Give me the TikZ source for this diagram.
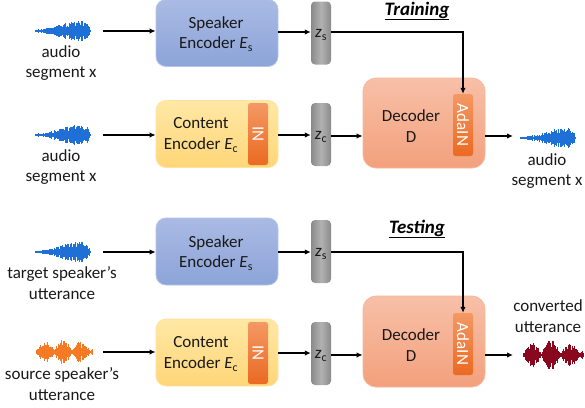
\documentclass[tikz,border=0pt]{standalone}
\usepackage{fontspec}
\setmainfont{Carlito}
\usetikzlibrary{arrows.meta}
\definecolor{spkA}{RGB}{170,186,228}
\definecolor{spkB}{RGB}{140,164,216}
\definecolor{spkE}{RGB}{180,196,234}
\definecolor{cntA}{RGB}{255,232,165}
\definecolor{cntB}{RGB}{255,214,120}
\definecolor{cntE}{RGB}{255,226,160}
\definecolor{decA}{RGB}{247,192,168}
\definecolor{decB}{RGB}{243,160,124}
\definecolor{decE}{RGB}{246,184,156}
\definecolor{inA}{RGB}{234,106,34}
\definecolor{inB}{RGB}{244,152,100}
\definecolor{zA}{RGB}{178,178,178}
\definecolor{zB}{RGB}{138,138,138}
\definecolor{waveblue}{RGB}{30,112,214}
\definecolor{waveorange}{RGB}{246,122,36}
\definecolor{wavered}{RGB}{138,8,30}
\newcommand\drawwave[6]{%
  \pgfmathsetseed{#5}%
  \fill[#4] (#1,#2-0.9) rectangle (#1+#3,#2+0.9);
  \foreach \i in {0,...,120}{%
    \pgfmathsetmacro\wt{\i/120}%
    \pgfmathsetmacro\xx{#1+\wt*#3}%
    \pgfmathsetmacro\hh{(#6)*(0.35+0.65*rnd)}%
    \draw[#4,line width=0.45pt] (\xx,#2-\hh) -- (\xx,#2+\hh);
  }%
}
\tikzset{
  arr/.style={draw=black,line width=1.4pt,-{Latex[length=6pt,width=5.5pt]}},
  spkbox/.style={rounded corners=10pt,minimum width=122pt,minimum height=67pt,inner sep=0pt,
    top color=spkA,bottom color=spkB,draw=spkE,line width=0.8pt},
  cntbox/.style={rounded corners=10pt,minimum width=122pt,minimum height=67pt,inner sep=0pt,
    top color=cntA,bottom color=cntB,draw=cntE,line width=0.8pt},
  decbox/.style={rounded corners=13pt,minimum width=122pt,minimum height=90pt,inner sep=0pt,
    top color=decA,bottom color=decB,draw=decE,line width=0.8pt},
  barbox/.style={rotate=-90,rounded corners=2.5pt,minimum width=62pt,minimum height=20pt,inner sep=0pt,
    top color=inB,bottom color=inA,text=white,
    font=\fontsize{17}{20}\selectfont},
  zbox/.style={rounded corners=4pt,minimum width=20pt,minimum height=63pt,inner sep=0pt,
    left color=zB,right color=zB,middle color=zA},
  txt/.style={align=center,inner sep=0pt,text=black!90},
  ttl/.style={inner sep=0pt,font=\fontsize{19}{22}\selectfont\bfseries\itshape},
}
\begin{document}
\begin{tikzpicture}[x=1pt,y=-1pt,font=\fontsize{17}{20.5}\selectfont]
\useasboundingbox (0,0) rectangle (585,407);

% ---------------- Training ----------------
\node[ttl] (ttrain) at (417,11) {\underline{Training}};

\drawwave{35}{31}{55}{waveblue}{3}{1.5+9*(\wt*\wt*sqrt(1-\wt))/0.286}
\coordinate (w1e) at (103,31);
\node[txt] (w1l) at (61,63) {audio\\segment x};

\node[spkbox] (spk1) at (217,33) {};
\node[txt] (spk1t) at (216,34) {Speaker\\Encoder {\itshape E}\textsubscript{s}};
\node[zbox] (zs1) at (321,33) {};
\node[txt] (zs1t) at (321,35) {{\itshape z}\textsubscript{s}};

\drawwave{35}{135}{55}{waveblue}{7}{1.5+9*(\wt*\wt*sqrt(1-\wt))/0.286}
\coordinate (w2e) at (103,135);
\node[txt] (w2l) at (61,167) {audio\\segment x};

\node[cntbox] (cnt1) at (217,134) {};
\node[txt] (cnt1t) at (201,135) {Content\\Encoder {\itshape E}\textsubscript{c}};
\node[barbox] (in1) at (258,134) {IN};
\node[zbox] (zc1) at (321,134.5) {};
\node[txt] (zc1t) at (321,137) {{\itshape z}\textsubscript{c}};

\node[decbox] (dec1) at (424,123) {};
\node[txt] (dec1t) at (411,126) {Decoder\\D};
\node[barbox] (ada1) at (463,125) {AdaIN};

\drawwave{520}{138}{55}{waveblue}{11}{1.5+9*(\wt*\wt*sqrt(1-\wt))/0.286}
\coordinate (o1) at (513,136);
\node[txt] (o1l) at (547,171) {audio\\segment x};

\draw[arr] (w1e) -- (w1e -| spk1.west);
\draw[arr] (spk1.east |- 0,32) -- (zs1.west |- 0,32);
\draw[arr] (zs1.east |- 0,32) -| (ada1.west);
\draw[arr] (w2e) -- (w2e -| cnt1.west);
\draw[arr] (cnt1.east |- 0,135) -- (zc1.west |- 0,135);
\draw[arr] (zc1.east |- 0,136) -- (dec1.west |- 0,136);
\draw[arr] (dec1.east |- o1) -- (o1);

% ---------------- Testing ----------------
\node[ttl] (ttest) at (417,229) {\underline{Testing}};

\drawwave{35}{252}{55}{waveblue}{5}{1.5+9*(\wt*\wt*sqrt(1-\wt))/0.286}
\coordinate (w3e) at (103,252);
\node[txt] (w3l) at (62,283) {target speaker’s\\utterance};

\node[spkbox] (spk2) at (217,251.5) {};
\node[txt] (spk2t) at (216,253) {Speaker\\Encoder {\itshape E}\textsubscript{s}};
\node[zbox] (zs2) at (321,251.5) {};
\node[txt] (zs2t) at (321,254) {{\itshape z}\textsubscript{s}};

\drawwave{36}{352}{56}{waveorange}{9}{1.5+12*abs(sin(560*\wt))*(0.5+0.5*sin(180*\wt))}
\coordinate (w4e) at (103,352);
\node[txt] (w4l) at (62,384) {source speaker’s\\utterance};

\node[cntbox] (cnt2) at (217,352.5) {};
\node[txt] (cnt2t) at (201,354) {Content\\Encoder {\itshape E}\textsubscript{c}};
\node[barbox] (in2) at (258,353) {IN};
\node[zbox] (zc2) at (321,353.5) {};
\node[txt] (zc2t) at (321,356) {{\itshape z}\textsubscript{c}};

\node[decbox,minimum height=91pt] (dec2) at (424,341.5) {};
\node[txt] (dec2t) at (411,345) {Decoder\\D};
\node[barbox] (ada2) at (463,344) {AdaIN};

\drawwave{523}{355}{60}{wavered}{13}{1.2+14*abs(sin(560*\wt+10))*(0.55+0.45*sin(180*\wt))}
\coordinate (o2) at (513,355);
\node[txt] (o2l) at (548,316) {converted\\utterance};

\draw[arr] (w3e) -- (w3e -| spk2.west);
\draw[arr] (spk2.east |- 0,252) -- (zs2.west |- 0,252);
\draw[arr] (zs2.east |- 0,252) -| (ada2.west);
\draw[arr] (w4e) -- (w4e -| cnt2.west);
\draw[arr] (cnt2.east |- 0,353) -- (zc2.west |- 0,353);
\draw[arr] (zc2.east |- 0,355) -- (dec2.west |- 0,355);
\draw[arr] (dec2.east |- o2) -- (o2);
\end{tikzpicture}
\end{document}
